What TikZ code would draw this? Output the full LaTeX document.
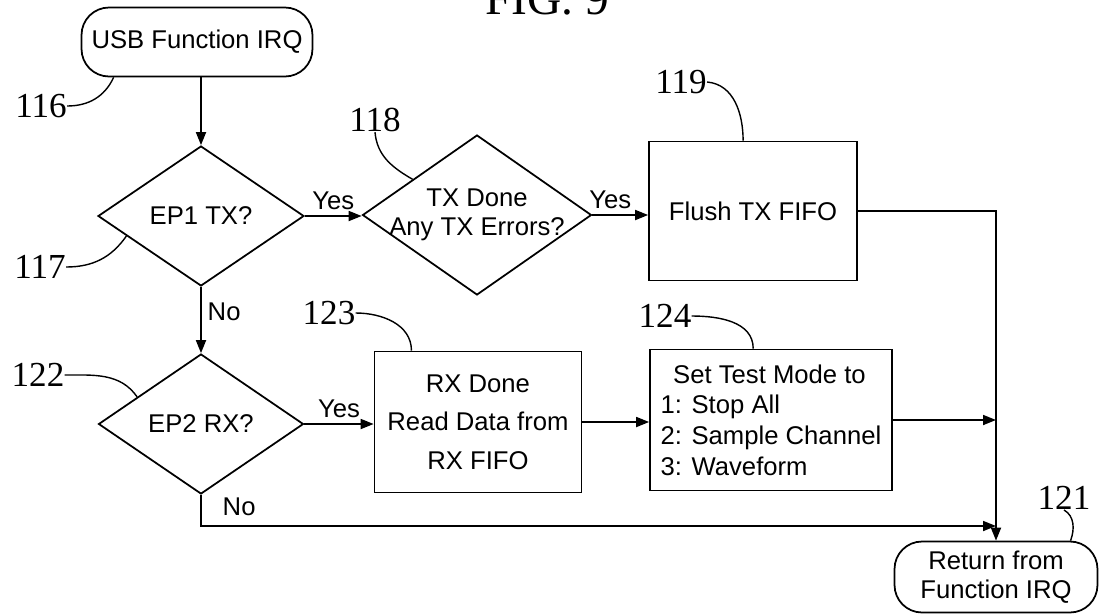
\documentclass[tikz,border=0pt]{standalone}
\usepackage{fontspec}
\setmainfont{Liberation Sans}
\newfontfamily\refnumfont{Liberation Serif}
\usetikzlibrary{shapes.geometric}
\usetikzlibrary{arrows.meta}
\tikzset{
        flownode/.style={align=center,inner sep=0pt,draw=black,line width=1pt,font=\fontsize{14.6}{16.5}\selectfont},
        % Start and end nodes
        node_term/.style={flownode, rectangle, rounded corners=0.55cm},
        % Decision nodes
        node_decision/.style={flownode, diamond, inner sep=-10pt},
        % Process nodes
        node_process/.style={flownode, rectangle},
        % Reference numbers
        node_ref/.style={inner sep=0pt, font=\refnumfont\fontsize{20}{22}\selectfont},
        % Yes / No labels
        node_answer/.style={font=\fontsize{14.6}{16.5}\selectfont},
        flow/.style={line width=1pt, -{Triangle[length=0.26cm,width=0.2cm]}},
        leader/.style={line width=0.8pt}
}
\begin{document}
\begin{tikzpicture}[x=0.02cm, y=-0.02cm]
            \useasboundingbox (0,0) rectangle (1102,613);
            \node[font=\refnumfont\fontsize{27}{30}\selectfont, anchor=base] (title) at (547,14) {FIG. 9};

            \node[node_term, minimum width=4.62cm, minimum height=1.38cm] (start) at (197,42) {USB Function IRQ};
            \node[node_decision, minimum width=4.12cm, minimum height=2.8cm] (ep1) at (201,216) {EP1 TX?};
            \node[node_decision, minimum width=4.58cm, minimum height=3.2cm] (txdone) at (477,215) {TX Done\\Any TX Errors?};
            \node[node_process, minimum width=4.16cm, minimum height=2.78cm] (flush) at (753,211) {Flush TX FIFO};
            \node[node_decision, minimum width=4.1cm, minimum height=2.8cm] (ep2) at (201,424) {EP2 RX?};
            \node[node_process, minimum width=4.14cm, minimum height=2.82cm, font=\fontsize{14.6}{22}\selectfont] (rxdone) at (478,422) {RX Done\\Read Data from\\RX FIFO};
            \node[node_process, minimum width=4.84cm, minimum height=2.82cm, align=left, font=\fontsize{14.6}{17.5}\selectfont] (testmode) at (771,420)
                {\hspace*{0.25cm}Set Test Mode to\\1: Stop All\\2: Sample Channel\\3: Waveform};
            \node[node_term, minimum width=4.06cm, minimum height=1.42cm] (ret) at (996,577) {Return from\\Function IRQ};
            \coordinate (nojoin) at (996,526);

            % reference numbers
            \node[node_ref] (r116) at (41,106) {116};
            \node[node_ref] (r117) at (40,267) {117};
            \node[node_ref] (r118) at (375,120) {118};
            \node[node_ref] (r119) at (681,82) {119};
            \node[node_ref] (r122) at (38,375) {122};
            \node[node_ref] (r123) at (329,313) {123};
            \node[node_ref] (r124) at (665,316) {124};
            \node[node_ref] (r121) at (1064,498) {121};

            \draw[flow] (start.south -| ep1.north) -- (ep1.north);
            \draw[flow] (ep1.east) -- node[node_answer, above] {Yes} (ep1.east -| txdone.west);
            \draw[flow] (txdone.east) -- node[node_answer, above, xshift=-0.2cm] {Yes} (txdone.east -| flush.west);
            \draw[flow] (flush.east) -| (ret.north);
            \draw[flow] (ep1.south) -- node[node_answer, right, pos=0.38] {No} (ep2.north);
            \draw[flow] (ep2.east) -- node[node_answer, above] {Yes} (ep2.east -| rxdone.west);
            \draw[flow] (rxdone.east) -- (rxdone.east -| testmode.west);
            \draw[flow] (testmode.east) -- (testmode.east -| ret.north);
            \draw[flow] (ep2.south) |- node[node_answer, pos=0.5, above right, xshift=0.3cm, yshift=0.08cm] {No} (nojoin);

            \draw[leader] (r116.east) to[out=0, in=-115] (start.203);
            \draw[leader] (r117.east) to[out=0, in=-125] (ep1.195);
            \draw[leader] (r118.south) to[out=-85, in=150] (txdone.151);
            \draw[leader] (r119.east) to[out=-5, in=90] (flush.98);
            \draw[leader] (r122.east) to[out=0, in=125] (ep2.157);
            \draw[leader] (r123.east) to[out=0, in=90] (rxdone.133);
            \draw[leader] (r124.east) to[out=0, in=90] (testmode.104);
            \draw[leader] (r121.south) to[out=-30, in=70] (ret.26);
\end{tikzpicture}
\end{document}
